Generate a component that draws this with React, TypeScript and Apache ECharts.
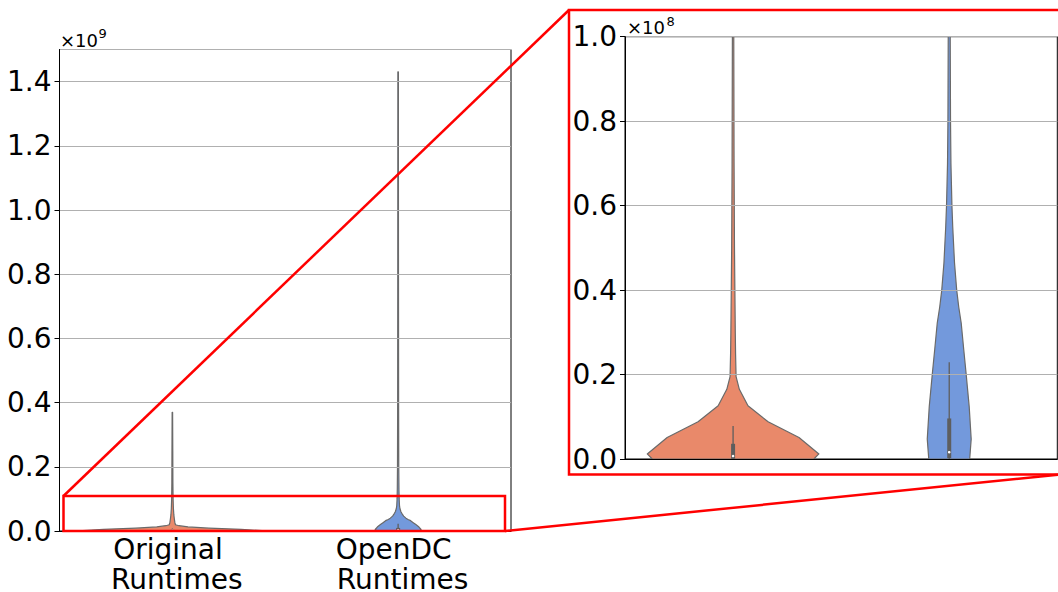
import React, { useEffect, useRef } from "react";
import * as echarts from "echarts";

// Categories
const categoryNames = ["Original \n Runtimes", "OpenDC \n Runtimes"];

// Violin density profiles (values in units of 1e8, half-widths as fraction of the category band)
const originalValues = [0, 0.012, 0.051, 0.088, 0.126, 0.165, 0.195, 0.25, 0.3, 0.4, 0.5, 0.7, 1.0, 1.5, 2.5, 3.7];
const originalHalfWidths = [0.374, 0.397, 0.305, 0.162, 0.069, 0.029, 0.0139, 0.0115, 0.0102, 0.0083, 0.0065, 0.0046, 0.0032, 0.0023, 0.0018, 0.001];

const opendcValues = [0, 0.047, 0.124, 0.2, 0.26, 0.322, 0.36, 0.4, 0.464, 0.55, 0.6, 0.7, 0.8, 1.0, 1.3, 2, 4, 8, 14.3];
const opendcHalfWidths = [0.0947, 0.1016, 0.0924, 0.0785, 0.067, 0.0554, 0.044, 0.0346, 0.0245, 0.0162, 0.0125, 0.0079, 0.006, 0.0046, 0.0037, 0.0028, 0.0021, 0.0016, 0.0012];

// Inner box statistics (units of 1e8)
const boxQ1 = [0.0005, 0.002];
const boxMedian = [0.007, 0.016];
const boxQ3 = [0.036, 0.096];
const whiskerLow = [0, 0];
const whiskerHigh = [0.078, 0.229];

const violinColors = ["#E9896A", "#7399DC"];

// Axis extents (units of 1e8)
const leftTickMax = 15;
const rightTickMax = 1;

const profiles = [
  { v: originalValues, w: originalHalfWidths },
  { v: opendcValues, w: opendcHalfWidths },
];

function renderViolin(params: any, api: any) {
  const idx = api.value(0);
  const prof = profiles[idx];
  const band = api.size([1, 0])[0];
  const right: number[][] = [];
  const left: number[][] = [];
  for (let i = 0; i < prof.v.length; i++) {
    const c = api.coord([idx, prof.v[i]]);
    right.push([c[0] + prof.w[i] * band, c[1]]);
    left.push([c[0] - prof.w[i] * band, c[1]]);
  }
  const points = right.concat(left.reverse());
  const q1 = api.coord([idx, boxQ1[idx]]);
  const q3 = api.coord([idx, boxQ3[idx]]);
  const wl = api.coord([idx, whiskerLow[idx]]);
  const wh = api.coord([idx, whiskerHigh[idx]]);
  const md = api.coord([idx, boxMedian[idx]]);
  return {
    type: "group",
    children: [
      {
        type: "polygon",
        shape: { points },
        style: { fill: violinColors[idx], stroke: "#6a6a6a", lineWidth: 1.2, lineJoin: "round" },
      },
      {
        type: "line",
        shape: { x1: wl[0], y1: wl[1], x2: wh[0], y2: wh[1] },
        style: { stroke: "#5e5e5e", lineWidth: 1.3 },
      },
      {
        type: "line",
        shape: { x1: q1[0], y1: q1[1], x2: q3[0], y2: q3[1] },
        style: { stroke: "#5e5e5e", lineWidth: 4 },
      },
      {
        type: "circle",
        shape: { cx: md[0], cy: md[1], r: 1.3 },
        style: { fill: "#ffffff" },
      },
    ],
  };
}

export default function App() {
  const ref = useRef<HTMLDivElement>(null);
  useEffect(() => {
    if (!ref.current) return;
    const chart = echarts.init(ref.current, undefined, { renderer: "svg" });
    const font = "DejaVu Sans";
    const axisCommonY = (max: number, interval: number, fmt: (v: number) => string, grid: number, showMax: boolean) => ({
      type: "value",
      gridIndex: grid,
      min: 0,
      max,
      interval,
      z: 5,
      axisLine: { show: true, lineStyle: { color: "#000", width: 1 } },
      axisTick: { show: true, length: 5, lineStyle: { color: "#000", width: 1 } },
      axisLabel: { formatter: fmt, fontSize: 28, color: "#000", margin: 8, fontFamily: font, showMaxLabel: showMax },
      splitLine: { show: true, lineStyle: { color: "#b0b0b0", width: 1 } },
    });
    const option: any = {
      animation: false,
      backgroundColor: "#ffffff",
      textStyle: { fontFamily: font },
      grid: [
        { left: 59.5, top: 49.5, width: 451.5, height: 481.5, show: true, borderColor: "#000", borderWidth: 1, backgroundColor: "transparent", containLabel: false, outerBoundsMode: "none" },
        { left: 625, top: 36.7, width: 432.3, height: 422.3, show: true, borderColor: "#000", borderWidth: 1, backgroundColor: "transparent", containLabel: false, outerBoundsMode: "none" },
      ],
      xAxis: [
        {
          type: "category",
          gridIndex: 0,
          data: categoryNames,
          z: 5,
          axisLine: { lineStyle: { color: "#000", width: 1 } },
          axisTick: { alignWithLabel: true, length: 5, lineStyle: { color: "#000" } },
          axisLabel: { fontSize: 28, lineHeight: 30, color: "#000", margin: 3, interval: 0, fontFamily: font },
          splitLine: { show: false },
        },
        {
          type: "category",
          gridIndex: 1,
          data: categoryNames,
          z: 5,
          axisLine: { lineStyle: { color: "#000", width: 1 } },
          axisTick: { alignWithLabel: true, length: 5, lineStyle: { color: "#000" } },
          axisLabel: { show: false },
          splitLine: { show: false },
        },
      ],
      yAxis: [
        axisCommonY(leftTickMax, 2, (v: number) => (v / 10).toFixed(1), 0, false),
        axisCommonY(rightTickMax, 0.2, (v: number) => v.toFixed(1), 1, true),
      ],
      series: [0, 1].map((g) => ({
        type: "custom",
        xAxisIndex: g,
        yAxisIndex: g,
        clip: true,
        z: 2,
        renderItem: renderViolin,
        encode: { x: 0, y: 1 },
        data: categoryNames.map((_, i) => [i, whiskerHigh[i]]),
      })),
      graphic: [
        { type: "text", x: 60, y: 40, z: 50, style: { text: "×10", fontSize: 18, fontFamily: font, fill: "#000", verticalAlign: "middle", align: "left" } },
        { type: "text", x: 98.5, y: 33.5, z: 50, style: { text: "9", fontSize: 13, fontFamily: font, fill: "#000", verticalAlign: "middle", align: "left" } },
        { type: "text", x: 627, y: 27.5, z: 50, style: { text: "×10", fontSize: 18, fontFamily: font, fill: "#000", verticalAlign: "middle", align: "left" } },
        { type: "text", x: 666.5, y: 21.7, z: 50, style: { text: "8", fontSize: 13, fontFamily: font, fill: "#000", verticalAlign: "middle", align: "left" } },
        { type: "rect", z: 100, shape: { x: 63.5, y: 496, width: 441.5, height: 35 }, style: { fill: "none", stroke: "#ff0000", lineWidth: 2.5 } },
        { type: "rect", z: 100, shape: { x: 569, y: 10, width: 495, height: 464.5 }, style: { fill: "none", stroke: "#ff0000", lineWidth: 2.5 } },
        { type: "line", z: 100, shape: { x1: 63.5, y1: 496, x2: 569, y2: 10 }, style: { stroke: "#ff0000", lineWidth: 2.5 } },
        { type: "line", z: 100, shape: { x1: 505, y1: 531, x2: 1060, y2: 474.5 }, style: { stroke: "#ff0000", lineWidth: 2.5 } },
      ],
    };
    chart.setOption(option);
    return () => chart.dispose();
  }, []);
  return <div ref={ref} style={{ position: "fixed", left: 0, top: 0, width: 1058, height: 592 }} />;
}
